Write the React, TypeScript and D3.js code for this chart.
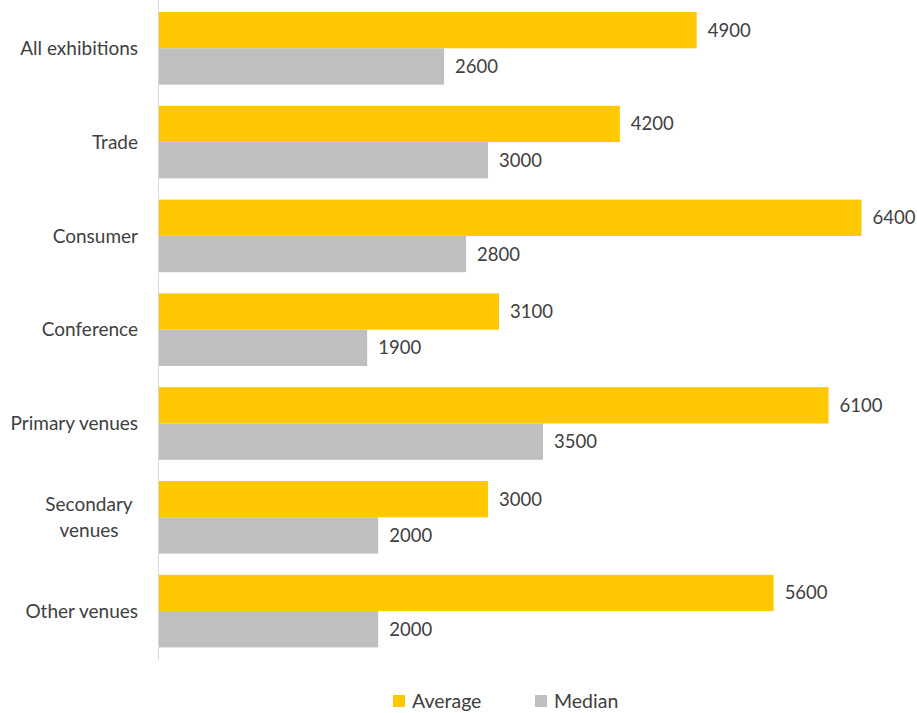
import React from "react";
import * as d3 from "d3";

const categories = [
  "All exhibitions",
  "Trade",
  "Consumer",
  "Conference",
  "Primary venues",
  "Secondary venues",
  "Other venues",
];
const averageValues = [4900, 4200, 6400, 3100, 6100, 3000, 5600];
const medianValues = [2600, 3000, 2800, 1900, 3500, 2000, 2000];
const seriesNames = ["Average", "Median"];
const seriesColors = ["#FFC800", "#BFBFBF"];

const W = 917;
const H = 713;
const FONT = "Lato, 'Open Sans', sans-serif";

const labelLines: Record<string, string[]> = {
  "Secondary venues": ["Secondary", "venues"],
};

export default function App() {
  const y = d3
    .scaleBand<string>()
    .domain(categories)
    .range([1.4, 658])
    .paddingInner(0.226)
    .paddingOuter(0.113);
  const sub = d3
    .scaleBand<string>()
    .domain(seriesNames)
    .range([0, y.bandwidth()]);
  const x = d3.scaleLinear().domain([0, 6400]).range([158.5, 861.5]);
  const series = [averageValues, medianValues];

  return (
    <svg
      width={W}
      height={H}
      style={{ position: "absolute", left: 0, top: 0, background: "#fff" }}
      fontFamily={FONT}
    >
      {categories.map((c, i) => (
        <g key={c}>
          {series.map((vals, s) => {
            const by = (y(c) as number) + (sub(seriesNames[s]) as number);
            return (
              <g key={s}>
                <rect
                  x={x(0)}
                  y={by}
                  width={x(vals[i]) - x(0)}
                  height={sub.bandwidth()}
                  fill={seriesColors[s]}
                />
                <text
                  x={x(vals[i]) + 11}
                  y={by + sub.bandwidth() / 2}
                  dy="0.35em"
                  fontSize={18.5}
                  fill="#404040"
                >
                  {vals[i]}
                </text>
              </g>
            );
          })}
          {(() => {
            const cy = (y(c) as number) + y.bandwidth() / 2;
            const lines = labelLines[c];
            if (lines) {
              return (
                <text
                  x={89}
                  textAnchor="middle"
                  fontSize={19}
                  fill="#404040"
                >
                  {lines.map((l, k) => (
                    <tspan
                      key={k}
                      x={89}
                      y={cy + (k - (lines.length - 1) / 2) * 26}
                      dy="0.35em"
                    >
                      {l}
                    </tspan>
                  ))}
                </text>
              );
            }
            return (
              <text
                x={138}
                y={cy}
                dy="0.35em"
                textAnchor="end"
                fontSize={19}
                fill="#404040"
              >
                {c}
              </text>
            );
          })()}
        </g>
      ))}
      <line
        x1={x(0)}
        x2={x(0)}
        y1={0}
        y2={660}
        stroke="#D9D9D9"
        strokeWidth={1}
      />
      {seriesNames.map((n, s) => {
        const lx = [393, 535][s];
        return (
          <g key={n}>
            <rect x={lx} y={695} width={12} height={12} fill={seriesColors[s]} />
            <text
              x={lx + 19}
              y={701}
              dy="0.35em"
              fontSize={19.5}
              fill="#404040"
            >
              {n}
            </text>
          </g>
        );
      })}
    </svg>
  );
}
